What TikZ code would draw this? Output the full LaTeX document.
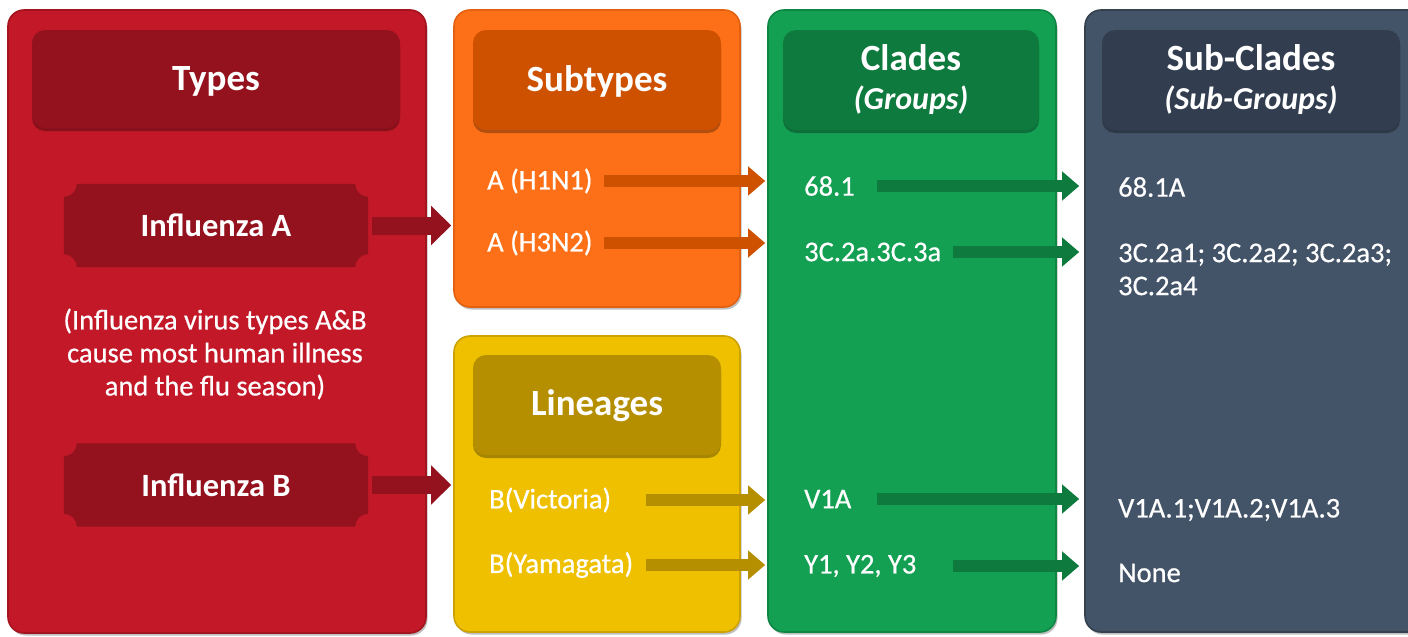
\documentclass[tikz,border=0pt]{standalone}
\usepackage{fontspec}
\setmainfont{Carlito}
\newfontfamily\bodyfam{Carlito}[FakeBold=0.6]
\usetikzlibrary{arrows.meta,shadows,calc}

% palette
\definecolor{redbg}{HTML}{C21828}
\definecolor{redln}{HTML}{A3141F}
\definecolor{reddk}{HTML}{93121E}
\definecolor{orbg}{HTML}{FE7017}
\definecolor{orln}{HTML}{E2600F}
\definecolor{ordk}{HTML}{CE5100}
\definecolor{yebg}{HTML}{EFC000}
\definecolor{yeln}{HTML}{CCA200}
\definecolor{yedk}{HTML}{B58F00}
\definecolor{grbg}{HTML}{13A052}
\definecolor{grln}{HTML}{0F8744}
\definecolor{grdk}{HTML}{0E7A3D}
\definecolor{slbg}{HTML}{435368}
\definecolor{slln}{HTML}{35414F}
\definecolor{sldk}{HTML}{323E4F}

\newcommand\hdrfont{\fontsize{37}{42}\selectfont\bfseries}
\newcommand\subfont{\fontsize{32}{42}\selectfont\bfseries\itshape}
\newcommand\plqfont{\fontsize{32.5}{36}\selectfont\bfseries}
\newcommand\bodfont{\bodyfam\fontsize{28.5}{33}\selectfont}

\tikzset{
  panel/.style={draw, line width=1.6pt, rounded corners=16pt, inner sep=0pt,
    drop shadow={shadow xshift=1.5pt, shadow yshift=-2.5pt, opacity=.25, fill=black}},
  header/.style={rounded corners=13pt, inner sep=0pt, align=center, text=white,
    font=\hdrfont,
    drop shadow={shadow xshift=0pt, shadow yshift=-3pt, opacity=.3, fill=black}},
  plaquebox/.style={inner sep=0pt, text=white, font=\plqfont,
    minimum width=304pt, minimum height=83pt},
  body/.style={text=white, font=\bodfont, anchor=west, inner sep=0pt, align=left},
  bigarrow/.style={line width=18pt, -{Triangle[length=20pt,width=38pt]}},
  smallarrow/.style={line width=12pt, -{Triangle[length=17pt,width=28pt]}},
}

% notched plaque drawn behind a named node
\newcommand\plaqueshape[2]{%
  \fill[#2] ([xshift=13pt]#1.north west) -- ([xshift=-13pt]#1.north east)
    arc[start angle=180,end angle=270,radius=13pt]
    -- ([yshift=13pt]#1.south east)
    arc[start angle=90,end angle=180,radius=13pt]
    -- ([xshift=13pt]#1.south west)
    arc[start angle=0,end angle=90,radius=13pt]
    -- ([yshift=-13pt]#1.north west)
    arc[start angle=270,end angle=360,radius=13pt] -- cycle;}

\begin{document}
\begin{tikzpicture}[x=1pt,y=1pt]
\useasboundingbox[fill=white] (0,0) rectangle (1408,-637);

% ---- column panels
\node[panel, fill=redbg, draw=redln, minimum width=418pt, minimum height=623pt] (types) at (217,-321.5) {};
\node[panel, fill=orbg, draw=orln, minimum width=286pt, minimum height=297pt] (subtypes) at (597,-158.5) {};
\node[panel, fill=yebg, draw=yeln, minimum width=286pt, minimum height=296pt] (lineages) at (597,-484) {};
\node[panel, fill=grbg, draw=grln, minimum width=288pt, minimum height=622pt] (clades) at (912,-321) {};
\node[panel, fill=slbg, draw=slln, minimum width=340pt, minimum height=622pt] (subclades) at (1255,-321) {};

% ---- headers
\node[header, fill=reddk, minimum width=368pt, minimum height=98pt] (hTypes) at (216,-79) {};
\node[text=white, font=\hdrfont] at (216,-81) {Types};
\node[header, fill=ordk, minimum width=248pt, minimum height=100pt] (hSub) at (597,-80) {};
\node[text=white, font=\hdrfont] at (597,-81) {Subtypes};
\node[header, fill=yedk, minimum width=248pt, minimum height=100pt] (hLin) at (597,-405) {};
\node[text=white, font=\hdrfont] at (597,-406) {Lineages};
\node[header, fill=grdk, minimum width=256pt, minimum height=100pt] (hCla) at (911,-80)
  {Clades\\[-3pt]{\subfont (Groups)}};
\node[header, fill=sldk, minimum width=298pt, minimum height=100pt] (hSubCla) at (1251,-80)
  {Sub-Clades\\[-3pt]{\subfont (Sub-Groups)}};

% ---- influenza types
\node[plaquebox] (fluA) at (216,-225.5) {};
\node[plaquebox] (fluB) at (216,-485) {};
\plaqueshape{fluA}{reddk}
\plaqueshape{fluB}{reddk}
\node[text=white, font=\plqfont] at (fluA) {Influenza A};
\node[text=white, font=\plqfont] at (fluB) {Influenza B};
\node[text=white, font=\bodfont, align=center, inner sep=0pt] (note) at (215,-354)
  {(Influenza virus types A\&B\\cause most human illness\\and the flu season)};

% ---- subtypes and lineages
\node[body] (h1n1) at (487,-181) {A (H1N1)};
\node[body] (h3n2) at (487,-243) {A (H3N2)};
\node[body] (vic) at (489,-500) {B(Victoria)};
\node[body] (yam) at (489,-565) {B(Yamagata)};

% ---- clades
\node[body] (c681) at (804,-186) {68.1};
\node[body] (c3c) at (804,-252) {3C.2a.3C.3a};
\node[body] (cv1a) at (804,-499) {V1A};
\node[body] (cy) at (804,-566) {Y1, Y2, Y3};

% ---- sub-clades
\node[body] (s681) at (1118,-187) {68.1A};
\node[body] (s3c) at (1118,-269.5) {3C.2a1; 3C.2a2; 3C.2a3;\\3C.2a4};
\node[body] (sv1a) at (1118,-510) {V1A.1;V1A.2;V1A.3};
\node[body] (snone) at (1118,-573) {None};

% ---- connectors
\draw[bigarrow, reddk, shorten <=4pt, shorten >=2pt] (fluA.east) -- (fluA.east -| subtypes.west);
\draw[bigarrow, reddk, shorten <=4pt, shorten >=2pt] (fluB.east) -- (fluB.east -| lineages.west);

\draw[smallarrow, ordk, shorten >=2pt] ([xshift=117pt]h1n1.west) -- (h1n1.west -| clades.west);
\draw[smallarrow, ordk, shorten >=2pt] ([xshift=117pt]h3n2.west) -- (h3n2.west -| clades.west);
\draw[smallarrow, yedk, shorten >=2pt] ([xshift=157pt]vic.west) -- (vic.west -| clades.west);
\draw[smallarrow, yedk, shorten >=2pt] ([xshift=157pt]yam.west) -- (yam.west -| clades.west);

\draw[smallarrow, grdk, shorten >=5pt] ([xshift=73pt]c681.west) -- (c681.west -| subclades.west);
\draw[smallarrow, grdk, shorten >=5pt] ([xshift=149pt]c3c.west) -- (c3c.west -| subclades.west);
\draw[smallarrow, grdk, shorten >=5pt] ([xshift=73pt]cv1a.west) -- (cv1a.west -| subclades.west);
\draw[smallarrow, grdk, shorten >=5pt] ([xshift=149pt]cy.west) -- (cy.west -| subclades.west);
\end{tikzpicture}
\end{document}
